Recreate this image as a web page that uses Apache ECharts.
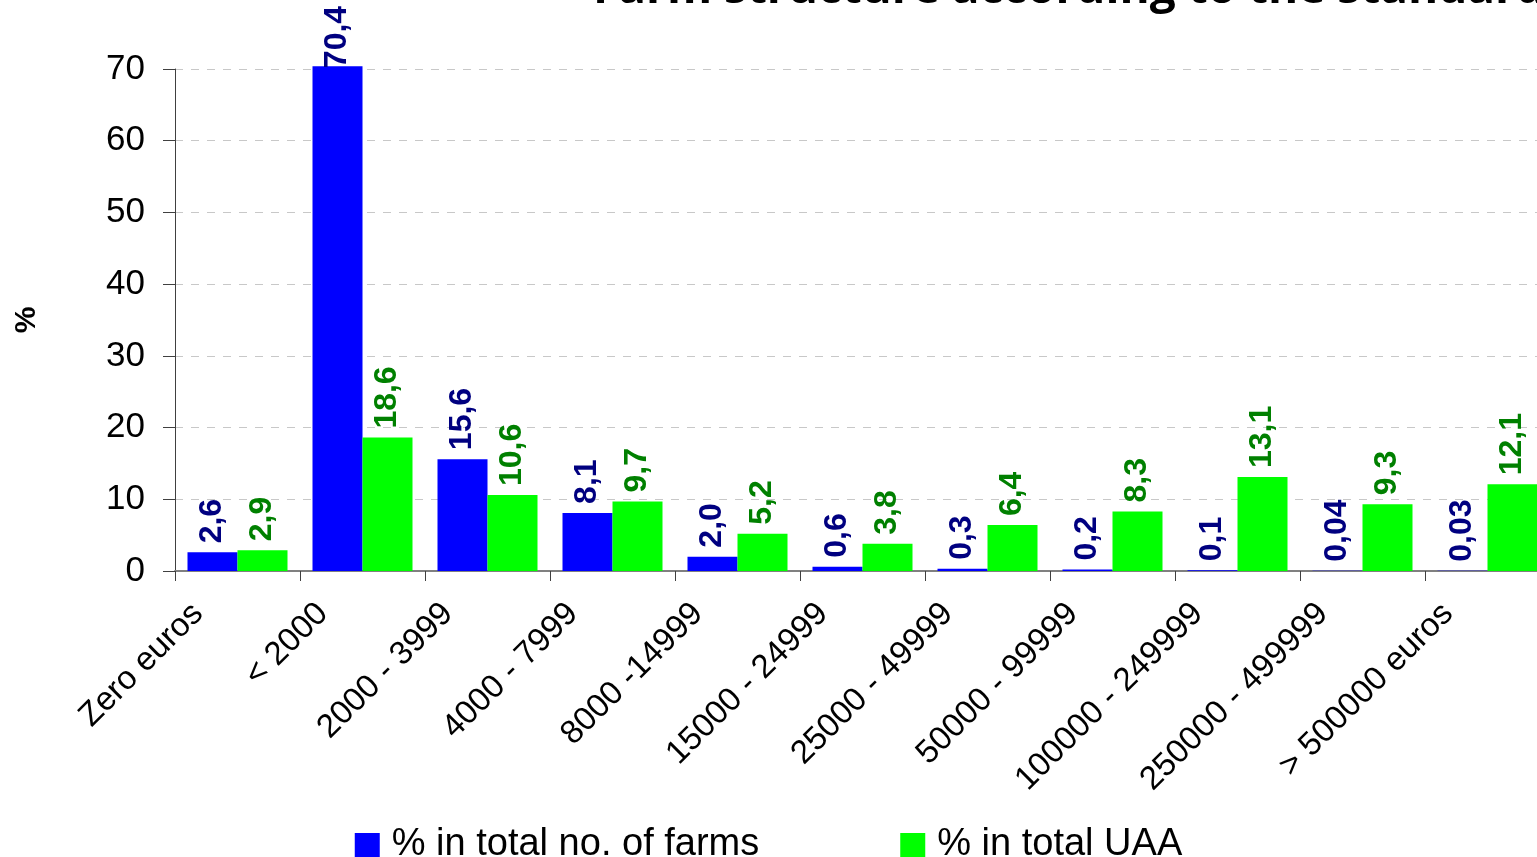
<!DOCTYPE html>
<html>
<head>
<meta charset="utf-8">
<script src="https://cdn.jsdelivr.net/npm/echarts@6/dist/echarts.min.js"></script>
<style>
html,body{margin:0;padding:0;background:#fff;}
#chart{width:1537px;height:857px;}
</style>
</head>
<body>
<div id="chart"></div>
<script>
const titleText = "Farm structure according to the standard";
const categories = ["Zero euros", "< 2000", "2000 - 3999", "4000 - 7999", "8000 -14999", "15000 - 24999", "25000 - 49999", "50000 - 99999", "100000 - 249999", "250000 - 499999", "> 500000 euros"];
const farmsName = "% in total no. of farms";
const uaaName = "% in total UAA";
const farmsValues = [2.6, 70.4, 15.6, 8.1, 2.0, 0.6, 0.3, 0.2, 0.1, 0.04, 0.03];
const uaaValues = [2.9, 18.6, 10.6, 9.7, 5.2, 3.8, 6.4, 8.3, 13.1, 9.3, 12.1];
const yTicks = [0, 10, 20, 30, 40, 50, 60, 70];

const yMax = yTicks[yTicks.length - 1];

function fmt(v) {
  const s = v < 0.1 ? v.toFixed(2) : v.toFixed(1);
  return s.replace('.', ',');
}
// labels of bars that reach past the axis top are pulled down onto the bar, so they stay in view
function toData(values) {
  return values.map(v => (v > yMax ? { value: v, label: { distance: -2 } } : v));
}

const chart = echarts.init(document.getElementById('chart'));
const labelBase = {
  show: true,
  position: 'top',
  rotate: 90,
  align: 'left',
  verticalAlign: 'middle',
  distance: 9,
  fontFamily: 'Liberation Sans',
  fontWeight: 'bold',
  fontSize: 32,
  formatter: p => fmt(p.value)
};
chart.setOption({
  animation: false,
  backgroundColor: '#ffffff',
  title: {
    text: titleText,
    left: 588,
    top: -38,
    textStyle: { fontFamily: 'Open Sans', fontWeight: 'bold', fontSize: 46, lineHeight: 46, color: '#000' }
  },
  legend: {
    data: [farmsName, uaaName],
    left: 'center',
    top: 821,
    itemWidth: 25,
    itemHeight: 24,
    itemGap: 141,
    icon: 'rect',
    textStyle: { fontFamily: 'Liberation Sans', fontSize: 38, color: '#000', padding: [0, 0, 0, 7] }
  },
  grid: { left: 175, top: 69, width: 1375, bottom: 286, containLabel: false, outerBoundsMode: 'none' },
  xAxis: {
    type: 'category',
    data: categories,
    boundaryGap: true,
    axisLine: { lineStyle: { color: '#808080', width: 2 } },
    axisTick: { show: true, length: 10, lineStyle: { color: '#404040', width: 1 } },
    axisLabel: {
      rotate: 45,
      interval: 0,
      margin: -2,
      padding: [0, 56, 0, 0],
      fontFamily: 'Liberation Sans',
      fontSize: 33,
      color: '#000'
    }
  },
  yAxis: {
    type: 'value',
    min: yTicks[0],
    max: yMax,
    interval: 10,
    name: '%',
    nameLocation: 'middle',
    nameRotate: 90,
    nameGap: 133,
    nameTextStyle: { fontFamily: 'Liberation Sans', fontWeight: 'bold', fontSize: 30, color: '#000' },
    axisLine: { show: true, lineStyle: { color: '#404040', width: 1 } },
    axisTick: { show: true, inside: false, length: 12, lineStyle: { color: '#404040' } },
    axisLabel: { margin: 30, fontFamily: 'Liberation Sans', fontSize: 35, color: '#000' },
    splitLine: { show: true, lineStyle: { color: '#c8c8c8', type: [8, 8], width: 1 } }
  },
  series: [
    {
      name: farmsName,
      type: 'bar',
      data: toData(farmsValues),
      barGap: '0%',
      barCategoryGap: '20%',
      clip: false,
      itemStyle: { color: '#0000ff' },
      label: Object.assign({}, labelBase, { color: '#000080' })
    },
    {
      name: uaaName,
      type: 'bar',
      data: toData(uaaValues),
      barGap: '0%',
      barCategoryGap: '20%',
      clip: false,
      itemStyle: { color: '#00ff00' },
      label: Object.assign({}, labelBase, { color: '#008000' })
    }
  ]
});
</script>
</body>
</html>
